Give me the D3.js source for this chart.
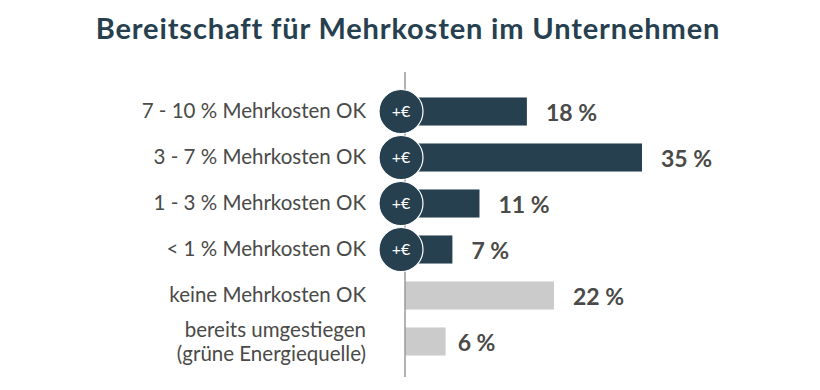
<!DOCTYPE html>
<html>
<head>
<meta charset="utf-8">
<script src="https://cdn.jsdelivr.net/npm/d3@7"></script>
<style>
  html, body { margin: 0; background: #fff; }
  svg { display: block; font-family: Lato, sans-serif; }
  .axis text { font-family: Lato, sans-serif; font-size: 20.5px; fill: #4a4a48; }
  .title { font-size: 29px; font-weight: 700; fill: #26404f; letter-spacing: .85px; }
  .value { font-size: 23px; font-weight: 700; fill: #4a4a48; }
</style>
</head>
<body>
<svg id="chart"></svg>
<script>
  const TITLE = "Bereitschaft für Mehrkosten im Unternehmen";
  const CATEGORIES = [
    "7 - 10 % Mehrkosten OK",
    "3 - 7 % Mehrkosten OK",
    "1 - 3 % Mehrkosten OK",
    "< 1 % Mehrkosten OK",
    "keine Mehrkosten OK",
    "bereits umgestiegen|(grüne Energiequelle)"
  ];
  const VALUES = [18, 35, 11, 7, 22, 6];
  // first four rows are the ones willing to pay extra
  const PAYS_EXTRA = [true, true, true, true, false, false];

  const W = 820, H = 390;
  const rows = CATEGORIES.map((c, i) => ({ cat: c, val: VALUES[i], extra: PAYS_EXTRA[i] }));

  const svg = d3.select("#chart").attr("width", W).attr("height", H);

  svg.append("text")
    .attr("class", "title")
    .attr("x", 408)
    .attr("y", 39)
    .attr("text-anchor", "middle")
    .text(TITLE);

  // Scales
  const x = d3.scaleLinear().domain([0, 35]).range([405, 642]);
  const y = d3.scaleBand().domain(CATEGORIES).range([88.5, 364.5]).paddingInner(0.39).paddingOuter(0.195);

  // Bars
  svg.selectAll("rect.bar")
    .data(rows)
    .join("rect")
    .attr("class", "bar")
    .attr("x", x(0))
    .attr("y", d => y(d.cat))
    .attr("width", d => x(d.val) - x(0))
    .attr("height", y.bandwidth())
    .attr("fill", d => d.extra ? "#26404f" : "#cbcbcb");

  // Axis line + category labels
  const axis = svg.append("g")
    .attr("class", "axis")
    .attr("transform", `translate(${x(0)},0)`)
    .call(d3.axisLeft(y).tickSize(0).tickPadding(39));
  axis.select(".domain").remove();
  axis.selectAll(".tick text").each(function (d) {
    const parts = d.split("|");
    if (parts.length < 2) return;
    const t = d3.select(this).text(null);
    parts.forEach((p, i) => {
      t.append("tspan")
        .attr("x", -39)
        .attr("dy", i === 0 ? "-0.2em" : "1.17em")
        .text(p);
    });
  });

  svg.append("line")
    .attr("x1", x(0)).attr("x2", x(0))
    .attr("y1", 72).attr("y2", 377)
    .attr("stroke", "#9a9a98")
    .attr("stroke-width", 1.5);

  // +€ badges
  const badge = svg.selectAll("g.badge")
    .data(rows.filter(d => d.extra))
    .join("g")
    .attr("class", "badge")
    .attr("transform", d => `translate(${x(0) - 4},${y(d.cat) + y.bandwidth() / 2})`);
  badge.append("circle")
    .attr("r", 22)
    .attr("fill", "#26404f")
    .attr("stroke", "#fff")
    .attr("stroke-width", 1.2);
  badge.append("text")
    .attr("text-anchor", "middle")
    .attr("dy", "0.35em")
    .attr("fill", "#fff")
    .style("font-size", "16px")
    .text("+€");

  // Value labels (the last one sits closer to its bar)
  svg.selectAll("text.value")
    .data(rows)
    .join("text")
    .attr("class", "value")
    .attr("x", (d, i) => x(d.val) + (i === rows.length - 1 ? 12 : 19))
    .attr("y", d => y(d.cat) + y.bandwidth() / 2)
    .attr("dy", "0.42em")
    .text(d => d.val + " %");
</script>
</body>
</html>
